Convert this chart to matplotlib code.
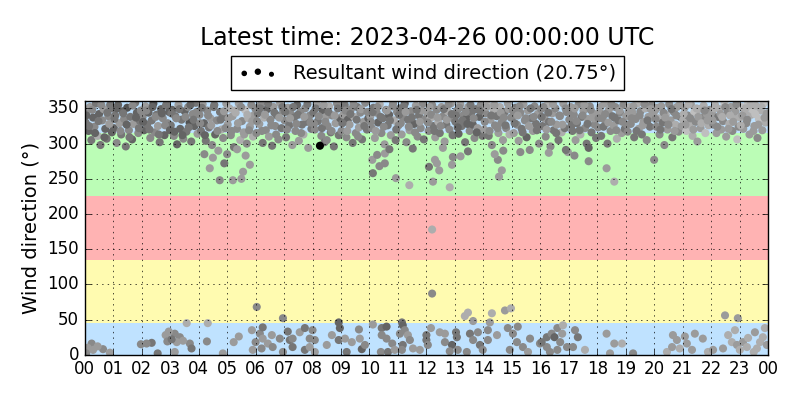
import numpy as np
import matplotlib
matplotlib.use("Agg")
import matplotlib.pyplot as plt

# dense cloud near north-west (hours, degrees, speed-ish shade), one line per hour
top_t = [
    0.03, 0.08, 0.13, 0.18, 0.23, 0.29, 0.34, 0.39, 0.45, 0.5, 0.55, 0.61, 0.66, 0.72, 0.77, 0.83, 0.89, 0.95,
    1.02, 1.07, 1.12, 1.17, 1.22, 1.28, 1.33, 1.38, 1.44, 1.49, 1.55, 1.6, 1.66, 1.71, 1.77, 1.83, 1.88, 1.94,
    2.03, 2.08, 2.13, 2.19, 2.24, 2.3, 2.35, 2.41, 2.46, 2.52, 2.57, 2.63, 2.68, 2.74, 2.8, 2.85, 2.91, 2.96,
    3.02, 3.07, 3.13, 3.18, 3.24, 3.29, 3.35, 3.4, 3.46, 3.51, 3.57, 3.63, 3.68, 3.74, 3.79, 3.85, 3.9, 3.96,
    4.03, 4.08, 4.14, 4.19, 4.25, 4.3, 4.36, 4.41, 4.47, 4.53, 4.58, 4.64, 4.69, 4.75, 4.8, 4.86, 4.92, 4.97,
    5.02, 5.08, 5.13, 5.19, 5.24, 5.3, 5.35, 5.41, 5.46, 5.52, 5.58, 5.63, 5.69, 5.74, 5.8, 5.85, 5.91, 5.96,
    6.03, 6.08, 6.13, 6.19, 6.25, 6.3, 6.36, 6.41, 6.47, 6.52, 6.58, 6.63, 6.69, 6.75, 6.8, 6.86, 6.91, 6.97,
    7.02, 7.07, 7.13, 7.18, 7.24, 7.29, 7.35, 7.4, 7.46, 7.52, 7.57, 7.63, 7.68, 7.74, 7.79, 7.85, 7.91, 7.96,
    8.03, 8.08, 8.14, 8.19, 8.31, 8.36, 8.42, 8.47, 8.53, 8.58, 8.64, 8.69, 8.75, 8.81, 8.86, 8.92, 8.97, 8.5,
    9.02, 9.08, 9.13, 9.19, 9.24, 9.3, 9.35, 9.41, 9.46, 9.52, 9.57, 9.63, 9.68, 9.74, 9.8, 9.85, 9.91, 9.96,
    10.03, 10.08, 10.14, 10.19, 10.25, 10.3, 10.36, 10.42, 10.47, 10.53, 10.58, 10.64, 10.69, 10.75, 10.81, 10.86, 10.92, 10.97,
    11.02, 11.07, 11.13, 11.18, 11.24, 11.3, 11.35, 11.41, 11.46, 11.52, 11.57, 11.63, 11.69, 11.74, 11.8, 11.85, 11.91, 11.96,
    12.03, 12.08, 12.14, 12.2, 12.25, 12.31, 12.36, 12.42, 12.47, 12.53, 12.59, 12.64, 12.7, 12.75, 12.81, 12.86, 12.92, 12.97,
    13.02, 13.08, 13.13, 13.19, 13.24, 13.3, 13.36, 13.41, 13.47, 13.52, 13.58, 13.63, 13.69, 13.74, 13.8, 13.86, 13.91, 13.97,
    14.03, 14.08, 14.14, 14.19, 14.25, 14.3, 14.36, 14.41, 14.47, 14.53, 14.58, 14.64, 14.69, 14.75, 14.8, 14.86, 14.92, 14.97,
    15.02, 15.07, 15.13, 15.18, 15.24, 15.3, 15.35, 15.41, 15.46, 15.52, 15.57, 15.63, 15.69, 15.74, 15.8, 15.85, 15.91, 15.96,
    16.03, 16.08, 16.14, 16.19, 16.25, 16.3, 16.36, 16.42, 16.47, 16.53, 16.58, 16.64, 16.69, 16.75, 16.81, 16.86, 16.92, 16.97,
    17.02, 17.07, 17.13, 17.18, 17.24, 17.29, 17.35, 17.41, 17.46, 17.52, 17.57, 17.63, 17.68, 17.74, 17.8, 17.85, 17.91, 17.96,
    18.03, 18.08, 18.14, 18.19, 18.25, 18.3, 18.36, 18.41, 18.47, 18.53, 18.58, 18.64, 18.69, 18.75, 18.8, 18.86, 18.92, 18.97,
    19.02, 19.07, 19.13, 19.18, 19.24, 19.3, 19.35, 19.41, 19.46, 19.52, 19.57, 19.63, 19.69, 19.74, 19.8, 19.85, 19.91, 19.96,
    20.03, 20.08, 20.14, 20.19, 20.25, 20.3, 20.36, 20.41, 20.47, 20.53, 20.58, 20.64, 20.69, 20.75, 20.8, 20.86, 20.92, 20.97,
    21.02, 21.07, 21.13, 21.18, 21.24, 21.29, 21.35, 21.41, 21.46, 21.52, 21.57, 21.63, 21.68, 21.74, 21.8, 21.85, 21.91, 21.96,
    22.03, 22.08, 22.14, 22.19, 22.25, 22.3, 22.36, 22.42, 22.47, 22.53, 22.58, 22.64, 22.69, 22.75, 22.81, 22.86, 22.92, 22.97,
    23.02, 23.07, 23.13, 23.18, 23.24, 23.29, 23.35, 23.41, 23.46, 23.52, 23.57, 23.63, 23.68, 23.74, 23.8, 23.85, 23.91, 23.96,
]
top_d = [
    330, 347, 318, 352, 305, 337, 324, 357, 311, 342, 298, 333, 349, 321, 307, 339, 355, 316,
    322, 340, 301, 355, 329, 313, 346, 335, 296, 351, 319, 338, 306, 328, 358, 344, 315, 332,
    338, 319, 353, 327, 344, 308, 333, 357, 316, 341, 325, 302, 349, 336, 312, 354, 329, 345,
    326, 348, 311, 339, 299, 355, 321, 334, 307, 346, 317, 352, 330, 303, 342, 325, 358, 314,
    341, 318, 356, 329, 304, 347, 323, 336, 298, 352, 313, 333, 290, 345, 320, 308, 338, 357,
    327, 350, 312, 339, 295, 344, 321, 357, 305, 332, 316, 348, 300, 336, 324, 355, 310, 341,
    315, 343, 328, 356, 301, 337, 319, 349, 310, 334, 297, 352, 325, 340, 306, 358, 322, 346,
    333, 309, 351, 326, 342, 298, 337, 318, 355, 304, 345, 327, 313, 350, 331, 294, 340, 321,
    344, 320, 356, 332, 311, 347, 302, 338, 325, 353, 316, 340, 296, 329, 357, 312, 336, 305,
    318, 341, 355, 309, 334, 327, 349, 301, 338, 315, 352, 323, 344, 306, 331, 358, 320, 336,
    339, 322, 351, 308, 344, 330, 356, 315, 336, 299, 348, 326, 341, 312, 353, 333, 305, 345,
    326, 350, 313, 338, 357, 302, 334, 319, 346, 293, 328, 354, 310, 340, 322, 347, 306, 335,
    344, 318, 336, 355, 325, 309, 348, 331, 315, 352, 339, 303, 327, 346, 320, 357, 312, 335,
    331, 347, 314, 356, 325, 340, 302, 336, 352, 318, 344, 327, 308, 349, 322, 338, 355, 311,
    320, 343, 355, 311, 334, 298, 348, 326, 339, 315, 352, 330, 305, 345, 322, 357, 313, 337,
    338, 315, 351, 327, 304, 344, 321, 356, 333, 309, 347, 291, 336, 318, 353, 328, 342, 300,
    349, 325, 336, 310, 355, 331, 296, 343, 319, 350, 327, 305, 339, 316, 357, 322, 345, 288,
    334, 352, 318, 341, 305, 329, 356, 313, 338, 347, 322, 300, 335, 353, 316, 343, 327, 308,
    323, 345, 311, 336, 357, 329, 300, 348, 318, 339, 326, 352, 307, 333, 344, 315, 355, 321,
    339, 317, 352, 328, 344, 309, 335, 357, 321, 346, 313, 331, 350, 305, 338, 324, 355, 342,
    347, 324, 336, 313, 353, 330, 298, 341, 320, 356, 333, 309, 345, 327, 352, 317, 338, 325,
    334, 351, 318, 340, 327, 356, 311, 345, 331, 303, 349, 322, 337, 354, 315, 342, 326, 348,
    343, 327, 355, 315, 338, 349, 320, 332, 357, 310, 344, 328, 352, 318, 336, 346, 306, 324,
    337, 352, 321, 345, 329, 356, 313, 341, 348, 325, 354, 308, 335, 347, 319, 357, 330, 343,
]
top_s = [
    6, 5, 7, 4, 6, 7, 5, 6, 3, 7, 6, 5, 4, 7, 6, 5, 6, 7,
    7, 6, 5, 7, 4, 6, 7, 5, 6, 8, 5, 6, 7, 4, 6, 7, 5, 6,
    5, 7, 4, 6, 7, 5, 6, 8, 5, 6, 4, 6, 7, 5, 7, 6, 5, 7,
    6, 7, 5, 6, 7, 4, 7, 6, 5, 7, 6, 5, 8, 6, 5, 7, 6, 4,
    5, 6, 4, 7, 6, 5, 6, 4, 5, 6, 7, 5, 4, 6, 3, 5, 6, 4,
    4, 3, 5, 4, 6, 3, 5, 4, 3, 5, 4, 2, 5, 3, 4, 5, 3, 4,
    5, 6, 4, 5, 6, 3, 5, 7, 4, 5, 6, 4, 5, 6, 5, 4, 6, 5,
    5, 6, 4, 6, 5, 4, 6, 5, 7, 4, 5, 6, 3, 5, 6, 4, 5, 6,
    6, 5, 4, 6, 5, 7, 6, 4, 5, 3, 6, 5, 6, 4, 5, 6, 7, 5,
    5, 4, 6, 5, 7, 4, 5, 6, 3, 5, 6, 4, 5, 6, 4, 5, 6, 7,
    4, 5, 6, 4, 5, 7, 3, 5, 6, 4, 5, 6, 7, 4, 5, 3, 6, 5,
    5, 6, 4, 5, 7, 5, 6, 4, 5, 6, 7, 4, 5, 6, 5, 4, 6, 5,
    4, 5, 3, 5, 6, 4, 5, 3, 6, 4, 5, 4, 6, 3, 5, 4, 6, 5,
    6, 5, 7, 4, 6, 5, 6, 7, 4, 5, 6, 7, 5, 6, 4, 7, 5, 6,
    4, 5, 3, 6, 4, 5, 3, 5, 6, 4, 3, 5, 4, 6, 5, 4, 3, 5,
    5, 4, 6, 5, 4, 5, 6, 4, 5, 7, 4, 5, 6, 4, 5, 6, 4, 5,
    5, 6, 4, 5, 3, 6, 5, 4, 6, 5, 4, 6, 5, 3, 4, 6, 5, 4,
    5, 4, 6, 5, 4, 6, 5, 3, 6, 4, 5, 6, 4, 5, 6, 4, 5, 6,
    5, 4, 6, 5, 4, 5, 6, 4, 5, 6, 4, 5, 3, 6, 5, 4, 5, 6,
    4, 5, 3, 5, 4, 6, 5, 3, 4, 5, 6, 4, 3, 5, 4, 6, 5, 4,
    4, 5, 3, 5, 4, 6, 5, 3, 4, 5, 4, 6, 5, 3, 4, 5, 6, 4,
    3, 4, 2, 5, 3, 4, 3, 2, 5, 4, 3, 4, 5, 3, 2, 4, 3, 5,
    4, 5, 3, 4, 6, 3, 4, 5, 2, 4, 5, 3, 4, 5, 3, 4, 2, 5,
    3, 2, 4, 3, 5, 2, 4, 3, 2, 4, 3, 5, 2, 3, 4, 2, 3, 4,
]

# second pass through the dense cloud, one line per hour
core_t = [
    0.05, 0.15, 0.26, 0.36, 0.48, 0.58, 0.69, 0.79, 0.86, 0.97,
    1.04, 1.14, 1.25, 1.35, 1.47, 1.57, 1.68, 1.8, 1.9, 1.97,
    2.05, 2.16, 2.27, 2.38, 2.49, 2.6, 2.71, 2.82, 2.88, 2.99,
    3.04, 3.15, 3.21, 3.32, 3.43, 3.54, 3.65, 3.71, 3.82, 3.93,
    4.05, 4.11, 4.22, 4.33, 4.44, 4.55, 4.66, 4.77, 4.89, 4.94,
    5.05, 5.16, 5.27, 5.38, 5.49, 5.6, 5.71, 5.77, 5.88, 5.99,
    6.05, 6.16, 6.22, 6.33, 6.44, 6.55, 6.66, 6.72, 6.83, 6.94,
    7.04, 7.1, 7.21, 7.32, 7.43, 7.49, 7.6, 7.71, 7.82, 7.93,
    8.05, 8.11, 8.22, 8.33, 8.39, 8.45, 8.56, 8.67, 8.78, 8.89,
    9.05, 9.16, 9.22, 9.33, 9.44, 9.55, 9.6, 9.71, 9.82, 9.93,
    10.05, 10.11, 10.22, 10.28, 10.39, 10.5, 10.61, 10.72, 10.83, 10.94,
    11.04, 11.1, 11.21, 11.27, 11.38, 11.49, 11.6, 11.66, 11.77, 11.88,
    12.05, 12.11, 12.17, 12.28, 12.39, 12.5, 12.61, 12.72, 12.78, 12.89,
    13.04, 13.1, 13.16, 13.27, 13.38, 13.44, 13.55, 13.66, 13.77, 13.88,
    14.05, 14.11, 14.22, 14.28, 14.39, 14.5, 14.61, 14.72, 14.78, 14.89,
    15.04, 15.1, 15.21, 15.27, 15.38, 15.49, 15.6, 15.66, 15.77, 15.88,
    16.05, 16.11, 16.22, 16.28, 16.39, 16.45, 16.56, 16.67, 16.78, 16.89,
    17.04, 17.1, 17.21, 17.27, 17.38, 17.49, 17.55, 17.66, 17.77, 17.88,
    18.05, 18.11, 18.22, 18.28, 18.39, 18.5, 18.61, 18.67, 18.78, 18.89,
    19.04, 19.1, 19.21, 19.27, 19.38, 19.49, 19.6, 19.66, 19.77, 19.88,
    20.05, 20.11, 20.22, 20.33, 20.39, 20.5, 20.61, 20.72, 20.78, 20.89,
    21.04, 21.1, 21.21, 21.27, 21.38, 21.49, 21.55, 21.66, 21.77, 21.88,
    22.05, 22.11, 22.22, 22.33, 22.39, 22.5, 22.61, 22.67, 22.78, 22.89,
    23.04, 23.1, 23.21, 23.27, 23.38, 23.49, 23.55, 23.66, 23.77, 23.88,
]
core_d = [
    340, 325, 348, 315, 332, 355, 309, 344, 328, 350,
    335, 350, 318, 343, 327, 309, 354, 337, 322, 347,
    331, 347, 320, 352, 338, 313, 343, 326, 357, 319,
    343, 317, 336, 349, 312, 338, 323, 355, 334, 345,
    329, 351, 312, 340, 326, 355, 318, 334, 346, 322,
    336, 318, 347, 329, 352, 313, 341, 319, 332, 350,
    332, 350, 318, 341, 357, 326, 344, 313, 337, 352,
    345, 320, 336, 352, 328, 341, 315, 338, 356, 330,
    328, 350, 339, 322, 355, 331, 345, 318, 340, 350,
    329, 347, 318, 342, 356, 334, 310, 349, 325, 345,
    331, 345, 318, 352, 338, 324, 347, 333, 357, 320,
    341, 329, 353, 345, 324, 337, 316, 348, 331, 357,
    330, 352, 341, 318, 337, 325, 349, 334, 356, 342,
    340, 323, 351, 333, 345, 328, 355, 336, 316, 347,
    331, 352, 318, 340, 355, 322, 344, 337, 326, 349,
    347, 329, 340, 353, 316, 336, 325, 350, 338, 319,
    338, 352, 320, 344, 331, 356, 315, 340, 327, 350,
    345, 326, 350, 332, 319, 340, 355, 328, 348, 336,
    336, 352, 324, 342, 330, 356, 337, 319, 347, 331,
    327, 346, 336, 353, 318, 340, 326, 356, 333, 349,
    335, 351, 320, 344, 337, 327, 349, 318, 340, 355,
    342, 327, 356, 336, 320, 350, 338, 329, 347, 333,
    333, 350, 324, 342, 338, 352, 321, 340, 331, 356,
    326, 340, 350, 334, 355, 318, 342, 327, 352, 337,
]
core_s = [
    7, 6, 5, 7, 6, 5, 7, 6, 4, 6,
    6, 7, 5, 6, 7, 6, 5, 7, 6, 5,
    7, 5, 6, 7, 5, 6, 7, 5, 6, 7,
    6, 7, 5, 6, 7, 5, 6, 7, 6, 5,
    5, 6, 7, 5, 4, 6, 5, 6, 4, 5,
    4, 5, 3, 4, 5, 4, 3, 5, 4, 5,
    5, 6, 5, 4, 6, 5, 6, 5, 4, 6,
    6, 5, 4, 6, 5, 6, 5, 4, 6, 5,
    5, 6, 5, 6, 4, 5, 6, 5, 4, 6,
    6, 5, 4, 6, 5, 6, 5, 4, 6, 5,
    5, 6, 4, 5, 6, 5, 4, 6, 5, 6,
    6, 5, 6, 4, 5, 6, 5, 6, 4, 5,
    5, 4, 5, 6, 4, 5, 6, 4, 5, 6,
    6, 7, 5, 6, 5, 7, 6, 5, 7, 6,
    5, 4, 5, 6, 4, 5, 4, 5, 6, 4,
    5, 6, 4, 5, 6, 5, 4, 6, 5, 6,
    6, 5, 4, 6, 5, 4, 6, 5, 4, 5,
    5, 6, 4, 5, 6, 5, 4, 6, 5, 4,
    5, 4, 6, 5, 4, 5, 6, 5, 4, 5,
    5, 4, 5, 4, 6, 5, 4, 5, 6, 4,
    5, 4, 6, 5, 4, 5, 6, 4, 5, 4,
    3, 4, 3, 5, 4, 3, 4, 3, 5, 4,
    4, 3, 5, 4, 3, 5, 4, 3, 4, 5,
    3, 4, 3, 5, 3, 4, 2, 4, 3, 4,
]

# stragglers below the main cloud and in the middle of the plot
mid_t = [4.39, 4.74, 5.2, 5.5, 5.56, 5.8, 4.5, 5.0, 5.35, 4.2, 4.9, 5.65,
         8.26,
         10.1, 10.27, 10.54, 10.54, 10.12, 10.93, 11.4, 10.35, 10.7,
         12.09, 12.3, 12.37, 12.23, 12.82, 12.9, 12.93, 12.58, 12.45,
         13.46, 14.51, 14.65, 14.55, 14.4, 14.7, 13.2,
         16.9, 17.7, 17.7, 18.33, 18.6, 20.0, 17.2, 15.3, 16.3,
         12.2, 12.2, 6.04, 6.96, 22.49, 22.94]
mid_d = [265, 248, 248, 250, 260, 270, 280, 285, 292, 285, 272, 283,
         297,
         277, 284, 286, 272, 258, 251, 241, 268, 292,
         267, 277, 272, 246, 238, 270, 281, 294, 262,
         289, 277, 262, 253, 285, 290, 282,
         291, 294, 275, 265, 246, 277, 283, 288, 287,
         178, 87, 68, 52, 56, 52]
mid_s = [4, 5, 4, 4, 4, 4, 4, 5, 4, 5, 6, 4,
         13,
         4, 5, 4, 5, 6, 4, 3, 5, 6,
         6, 4, 4, 4, 3, 4, 5, 4, 4,
         6, 5, 4, 4, 4, 5, 4,
         6, 7, 5, 4, 3, 5, 5, 5, 4,
         3, 5, 5, 5, 4, 4]

# points near north-east (0-70 deg)
low_t = [0.24, 0.29, 0.64, 0.88, 0.1, 0.45, 0.05,
         1.97, 2.35, 2.17, 2.56, 2.84, 3.16, 3.34, 3.58, 3.69, 2.9, 3.23, 3.16, 3.75, 3.05, 3.45, 2.95,
         4.32, 4.29, 4.85, 5.23, 5.41, 5.87, 5.9, 6.0, 6.15, 6.25, 6.25, 6.21, 6.43, 6.57, 6.6, 6.85, 6.96,
         7.13, 7.2, 7.3, 7.3, 7.55, 7.73, 7.9, 7.73, 7.9,
         8.0, 8.08, 8.08, 8.5, 8.68, 8.92, 8.96, 8.92, 9.14, 9.2, 9.38, 9.63, 9.66, 9.73, 9.84,
         10.12, 10.43, 10.43, 10.6, 10.6, 10.8, 10.4, 10.65, 10.89, 11.14, 11.17, 11.07, 11.24, 11.35,
         11.42, 11.17, 11.14, 11.53, 11.77, 12.0, 12.0, 12.05, 12.16, 12.47, 12.65, 12.65, 12.9, 12.82,
         13.04, 13.07, 13.1, 13.35, 13.46, 13.64, 13.53, 13.42, 13.64, 13.81, 13.88, 13.98,
         14.16, 14.3, 14.23, 14.16, 14.48, 14.76, 14.97, 14.86, 15.04, 15.21, 15.18, 14.93, 15.39,
         15.64, 15.57, 15.99, 16.23,
         16.05, 16.23, 16.4, 16.5, 16.6, 16.77, 16.8, 16.7, 16.34, 16.6, 16.94, 17.22, 17.32, 17.15, 17.57,
         18.33, 18.6, 18.87, 18.45, 19.26, 20.45, 20.66, 20.8, 20.63, 20.9, 21.08, 21.15, 21.33, 21.43,
         21.71, 21.89, 22.07, 22.42, 22.6, 22.73, 22.84, 22.91, 23.01, 23.12, 23.26, 23.54, 23.61,
         23.72, 23.82, 23.89, 23.96, 23.5, 23.3]
low_d = [16, 7, 8, 3, 10, 12, 2,
         15, 17, 16, 2, 28, 30, 25, 45, 16, 19, 18, 4, 9, 22, 20, 33,
         45, 19, 2, 18, 26, 35, 7, 18, 30, 39, 23, 9, 16, 28, 11, 23, 4,
         33, 21, 23, 11, 32, 38, 23, 7, 11,
         35, 21, 4, 14, 28, 46, 38, 21, 23, 4, 18, 36, 23, 8, 14,
         43, 38, 28, 40, 23, 16, 4, 4, 7, 46, 42, 30, 35, 28,
         21, 14, 7, 9, 7, 21, 28, 14, 38, 32, 30, 18, 14, 5,
         32, 25, 7, 55, 60, 48, 30, 4, 21, 32, 14, 7,
         35, 59, 46, 21, 28, 63, 66, 38, 30, 40, 18, 7, 11,
         23, 4, 16, 11,
         18, 25, 30, 25, 38, 30, 42, 18, 4, 7, 11, 35, 25, 11, 7,
         30, 16, 16, 2, 2, 4, 28, 21, 11, 9, 26, 16, 7, 30,
         23, 4, 7, 9, 28, 18, 35, 14, 7, 18, 11, 32, 9,
         18, 25, 38, 14, 4, 24]
low_s = [5, 4, 5, 4, 4, 4, 5,
         5, 6, 5, 6, 4, 5, 5, 3, 5, 5, 4, 4, 6, 6, 4, 4,
         3, 5, 4, 4, 4, 4, 4, 5, 5, 6, 4, 5, 4, 4, 5, 5, 5,
         6, 6, 5, 6, 4, 6, 5, 6, 4,
         5, 5, 4, 4, 4, 7, 7, 6, 4, 6, 4, 5, 4, 7, 5,
         4, 6, 5, 7, 5, 5, 5, 6, 4, 6, 7, 5, 5, 4,
         5, 6, 5, 4, 4, 6, 6, 5, 4, 4, 4, 5, 7, 5,
         6, 6, 5, 3, 3, 4, 6, 5, 5, 5, 6, 5,
         5, 3, 4, 5, 4, 4, 3, 5, 5, 5, 5, 5, 5,
         5, 4, 5, 5,
         6, 6, 5, 7, 5, 4, 3, 5, 5, 5, 5, 5, 6, 5, 3,
         4, 4, 3, 4, 5, 3, 4, 4, 4, 3, 4, 4, 4, 4,
         4, 3, 4, 4, 3, 3, 3, 4, 3, 4, 3, 4, 3,
         3, 3, 3, 4, 3, 3]

hour_labels = ["%02d" % (h % 24) for h in range(25)]
# direction sectors (lower, upper, colour)
bands = [(0, 45, "#bfe2ff"), (45, 135, "#fffbb0"), (135, 225, "#ffb3b3"),
         (225, 315, "#bbfdb6"), (315, 360, "#bfe2ff")]

t = np.array(top_t + core_t + mid_t + low_t)
d = np.array(top_d + core_d + mid_d + low_d)
s = np.array(top_s + core_s + mid_s + low_s)

plt.style.use("classic")
fig = plt.figure(figsize=(8, 4), dpi=100, facecolor="white")
ax = fig.add_axes([0.106, 0.113, 0.854, 0.6335])

for lo, hi, col in bands:
    ax.axhspan(lo, hi, color=col, lw=0, zorder=0)

ax.scatter(t, d, c=s, cmap="gray_r", vmin=-1.5, vmax=12.5, s=34, edgecolors="none", zorder=1)

ax.set_xlim(0, 24)
ax.set_ylim(0, 360)
ax.set_xticks(range(25))
ax.set_xticklabels(hour_labels)
ax.set_yticks(range(0, 351, 50))
ax.tick_params(labelsize=12)
ax.grid(True, color="k", linestyle=":")
ax.set_ylabel("Wind direction (°)", fontsize=14)

proxy = ax.scatter([], [], c="k", s=20)
leg = fig.legend([proxy], ["Resultant wind direction (20.75°)"], loc="center",
                 bbox_to_anchor=(0.534, 0.8175), scatterpoints=3, fontsize=14,
                 fancybox=False, frameon=True)
leg.get_frame().set_edgecolor("k")
leg.legend_handles[0].set_sizes([9, 13, 7])

fig.suptitle("Latest time: 2023-04-26 00:00:00 UTC", fontsize=17, x=0.534, y=0.935)

fig.savefig("out.png", dpi=100, facecolor="white")
